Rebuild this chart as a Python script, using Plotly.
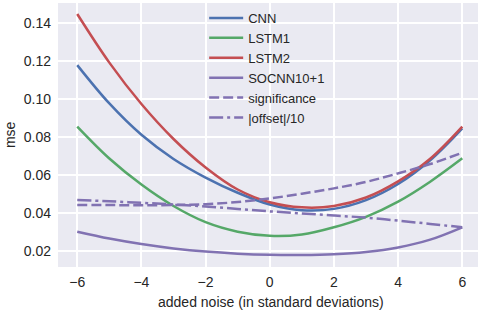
import plotly.graph_objects as go

noise = [-6, -5, -4, -3, -2, -1, 0, 1, 2, 3, 4, 5, 6]
cnn = [0.1177, 0.0975, 0.0810, 0.0683, 0.0585, 0.0505, 0.0443, 0.0413, 0.0420, 0.0466, 0.0551, 0.0676, 0.0844]
lstm1 = [0.0853, 0.0685, 0.0548, 0.0435, 0.0350, 0.0300, 0.0278, 0.0285, 0.0323, 0.0378, 0.0458, 0.0563, 0.0686]
lstm2 = [0.1446, 0.1190, 0.0972, 0.0788, 0.0638, 0.0522, 0.0455, 0.0428, 0.0435, 0.0480, 0.0565, 0.0684, 0.0853]
socnn = [0.0300, 0.0264, 0.0235, 0.0212, 0.0195, 0.0184, 0.0178, 0.0177, 0.0181, 0.0193, 0.0217, 0.0258, 0.0323]
significance = [0.0441, 0.0440, 0.0439, 0.0440, 0.0445, 0.0456, 0.0475, 0.0500, 0.0528, 0.0562, 0.0607, 0.0656, 0.0716]
offset10 = [0.0467, 0.0460, 0.0452, 0.0443, 0.0433, 0.0420, 0.0407, 0.0396, 0.0385, 0.0374, 0.0358, 0.0341, 0.0323]

xticks = [-6, -4, -2, 0, 2, 4, 6]
xticklabels = ["\u22126", "\u22124", "\u22122", "0", "2", "4", "6"]
yticks = [0.02, 0.04, 0.06, 0.08, 0.10, 0.12, 0.14]
yticklabels = ["0.02", "0.04", "0.06", "0.08", "0.10", "0.12", "0.14"]

BLUE = "#4C72B0"
GREEN = "#55A868"
RED = "#C44E52"
PURPLE = "#8172B2"

series = [
    ("CNN", cnn, BLUE, "solid"),
    ("LSTM1", lstm1, GREEN, "solid"),
    ("LSTM2", lstm2, RED, "solid"),
    ("SOCNN10+1", socnn, PURPLE, "solid"),
    ("significance", significance, PURPLE, "10px,4px"),
    ("|offset|/10", offset10, PURPLE, "14px,4px,3px,4px"),
]

FAMILY = "Liberation Sans, Arial, sans-serif"
TEXT = "#262626"

fig = go.Figure()
for name, vals, color, dash in series:
    fig.add_trace(go.Scatter(
        x=noise, y=vals, name=name, mode="lines",
        line=dict(color=color, width=2.5, dash=dash, shape="spline", smoothing=1.0),
    ))

fig.update_layout(
    width=483, height=311,
    margin=dict(l=58, r=5, t=3, b=44),
    paper_bgcolor="white",
    plot_bgcolor="#EAEAF2",
    font=dict(family=FAMILY, size=14, color=TEXT),
    showlegend=True,
    legend=dict(
        x=0.348, y=1.0, xanchor="left", yanchor="top",
        bgcolor="rgba(0,0,0,0)", borderwidth=0,
        font=dict(family=FAMILY, size=13, color=TEXT),
        tracegroupgap=0, itemwidth=34,
    ),
    xaxis=dict(
        range=[-6.6, 6.49], tickvals=xticks, ticktext=xticklabels,
        showgrid=True, gridcolor="white", gridwidth=1.5, zeroline=False,
        showline=False, ticks="", ticklabelstandoff=5, automargin=False,
        tickfont=dict(family=FAMILY, size=14, color=TEXT),
    ),
    yaxis=dict(
        range=[0.0114, 0.1504], tickvals=yticks, ticktext=yticklabels,
        showgrid=True, gridcolor="white", gridwidth=1.5, zeroline=False,
        showline=False, ticks="", ticklabelstandoff=6, automargin=False,
        tickfont=dict(family=FAMILY, size=14, color=TEXT),
    ),
    annotations=[
        dict(text="added noise (in standard deviations)", xref="paper", yref="paper",
             x=0.507, y=-0.133, xanchor="center", yanchor="middle", showarrow=False,
             font=dict(family=FAMILY, size=14, color=TEXT)),
        dict(text="mse", xref="paper", yref="paper", textangle=-90,
             x=-0.114, y=0.5, xanchor="center", yanchor="middle", showarrow=False,
             font=dict(family=FAMILY, size=14, color=TEXT)),
    ],
)

fig.write_html("out.html", config={"displayModeBar": False},
               post_script="document.body.style.margin='0px';")
